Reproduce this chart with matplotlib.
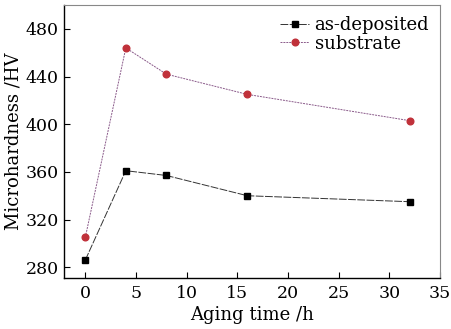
import matplotlib
matplotlib.use("Agg")
import matplotlib.pyplot as plt

time_h = [0, 4, 8, 16, 32]
as_deposited = [286, 361, 357, 340, 335]
substrate = [305, 464, 442, 425, 403]
x_ticks = [0, 5, 10, 15, 20, 25, 30, 35]
y_ticks = [280, 320, 360, 400, 440, 480]

plt.rcParams['font.family'] = ['DejaVu Serif']
fig = plt.figure(figsize=(4.51, 3.29), dpi=100)
ax = fig.add_axes([64/451, 1-278/329, (440-64)/451, (278-5)/329])

ax.plot(time_h, as_deposited, color='#333333', lw=0.7, ls=(0, (8, 1.5)),
        marker='s', ms=4.2, mfc='black', mec='black', label='as-deposited')
ax.plot(time_h, substrate, color='#8a5a8a', lw=0.7, ls=(0, (2, 1)),
        marker='o', ms=4.8, mfc='#c0313a', mec='#c0313a', label='substrate')

ax.set_xlim(-2.1, 35)
ax.set_ylim(271, 500)
ax.set_xticks(x_ticks)
ax.set_yticks(y_ticks)
ax.tick_params(direction='in', length=4, width=0.8, labelsize=12.5, pad=4)
ax.tick_params(axis='x', pad=5)
for s in ['top', 'right']:
    ax.spines[s].set_color('#888888')
for s in ['left', 'bottom']:
    ax.spines[s].set_linewidth(1.0)

ax.set_xlabel('Aging time /h', fontsize=13, labelpad=3)
ax.set_ylabel('Microhardness /HV', fontsize=13, labelpad=2)

leg = ax.legend(loc='upper right', frameon=False, fontsize=13, handlelength=1.6,
                handletextpad=0.3, borderaxespad=0.2, labelspacing=0.05)

fig.savefig('out.png', dpi=100)
